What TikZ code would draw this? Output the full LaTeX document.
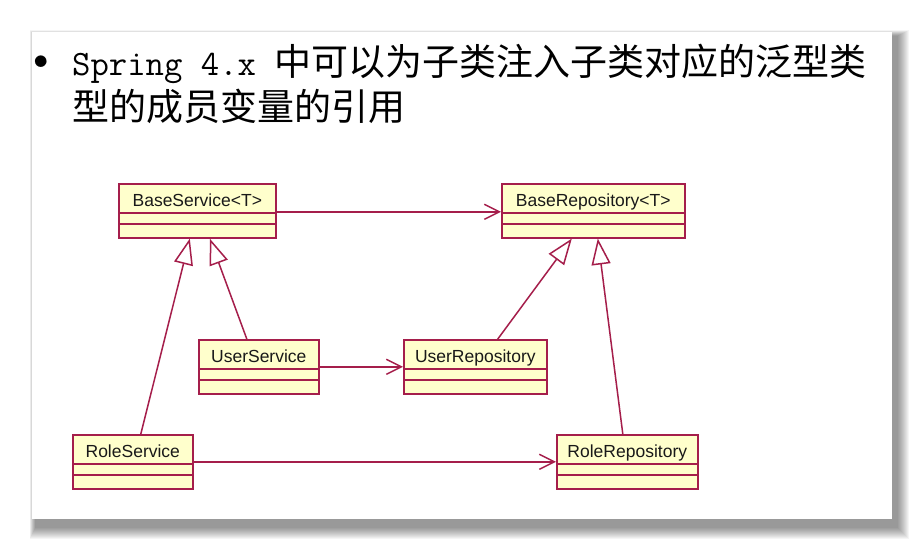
\documentclass[tikz,border=0pt]{standalone}
\usepackage{fontspec}
\setsansfont{Liberation Sans}
\newfontfamily\cjk{Noto Sans CJK SC}
\usetikzlibrary{arrows.meta,calc}
\definecolor{umlred}{RGB}{165,30,75}
\definecolor{umlfill}{RGB}{255,255,204}
\begin{document}
\begin{tikzpicture}[x=1pt,y=-1pt,
  cls/.style={draw=umlred, fill=umlfill, line width=1.6pt, anchor=north west,
    inner xsep=0pt, inner ysep=0pt, text height=23pt, text depth=31pt,
    font=\sffamily\fontsize{17.5}{20}\selectfont, text=black!90,
    path picture={\draw[umlred, line width=1.6pt]
      ([yshift=-29pt]path picture bounding box.north west) -- ([yshift=-29pt]path picture bounding box.north east)
      ([yshift=-40pt]path picture bounding box.north west) -- ([yshift=-40pt]path picture bounding box.north east);}},
  assoc/.style={draw=umlred, line width=1.5pt, -{Straight Barb[length=15pt,width=15pt]}},
  gen/.style={draw=umlred, line width=1.5pt, -{Triangle[open,length=26pt,width=19pt]}},
  title/.style={anchor=base west, inner sep=0pt, text=black},
]
\useasboundingbox (0,0) rectangle (924,551);
\fill[white] (0,0) rectangle (924,551);
% shadow
\foreach \k in {1,...,12}{
  \fill[black, opacity=0.04] (29+0.5*\k,30+0.5*\k) rectangle (910-\k,540-\k);
}
% slide
\fill[white] (32,32) rectangle (892,519);
% title
\node[font=\fontsize{52}{56}\selectfont, inner sep=0pt, anchor=base] (bul) at (41,76) {\textbullet};
\node[title] (t1) at (72,76) {\ttfamily\fontsize{35.7}{40}\selectfont Spring 4.x {\cjk\fontsize{37}{40}\selectfont 中可以为子类注入子类对应的泛型类}};
\node[title] (t2) at (72,121) {\cjk\fontsize{37}{40}\selectfont 型的成员变量的引用};
% classes
\node[cls, minimum width=157pt] (bs) at (118,183) {BaseService<T>};
\node[cls, minimum width=183pt] (br) at (501,183) {BaseRepository<T>};
\node[cls, minimum width=120pt] (us) at (198,339) {UserService};
\node[cls, minimum width=143pt] (ur) at (403,339) {UserRepository};
\node[cls, minimum width=120pt] (rs) at (72,434) {RoleService};
\node[cls, minimum width=141pt] (rr) at (556,434) {RoleRepository};
% associations
\draw[assoc] ([yshift=-1pt]bs.east) -- ([yshift=-1pt]br.west);
\draw[assoc] (us.east) -- (ur.west);
\draw[assoc] (rs.east) -- (rr.west);
% generalizations
\draw[gen] ([xshift=8pt]rs.north) -- ([xshift=-7.5pt]bs.south);
\draw[gen] ([xshift=-12pt]us.north) -- ([xshift=12.5pt]bs.south);
\draw[gen] ([xshift=22.5pt]ur.north) -- ([xshift=-21.5pt]br.south);
\draw[gen] ([xshift=-4.5pt]rr.north) -- ([xshift=4.5pt]br.south);
\end{tikzpicture}
\end{document}
